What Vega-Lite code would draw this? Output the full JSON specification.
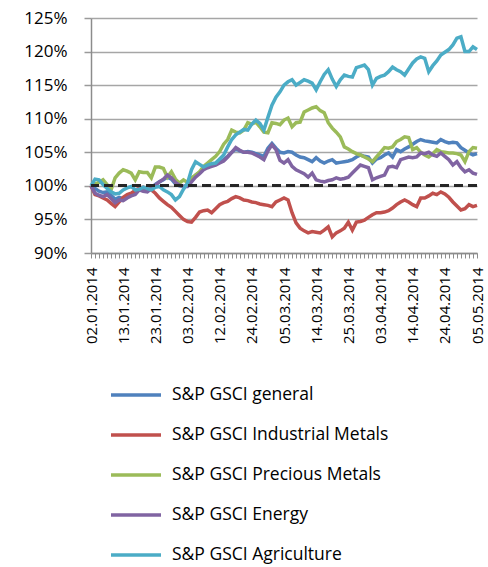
{
  "$schema": "https://vega.github.io/schema/vega-lite/v6.json",
  "width": 386,
  "height": 235,
  "padding": {"left": 23, "top": 9, "right": 2, "bottom": 0},
  "config": {"view": {"stroke": null}, "font": "Open Sans"},
  "data": {"values": [
    {"date": "02.01.2014", "general": 100.0, "industrial": 100.0, "precious": 100.0, "energy": 100.0, "agriculture": 100.0},
    {"date": "03.01.2014", "general": 99.6, "industrial": 98.7, "precious": 100.3, "energy": 98.9, "agriculture": 101.0},
    {"date": "06.01.2014", "general": 99.2, "industrial": 98.5, "precious": 100.5, "energy": 98.6, "agriculture": 100.9},
    {"date": "07.01.2014", "general": 99.0, "industrial": 98.2, "precious": 100.9, "energy": 98.4, "agriculture": 100.2},
    {"date": "08.01.2014", "general": 99.1, "industrial": 97.9, "precious": 100.2, "energy": 98.7, "agriculture": 99.6},
    {"date": "09.01.2014", "general": 98.6, "industrial": 97.4, "precious": 99.4, "energy": 98.1, "agriculture": 99.1},
    {"date": "10.01.2014", "general": 98.0, "industrial": 96.9, "precious": 101.2, "energy": 97.5, "agriculture": 98.8},
    {"date": "11.01.2014", "general": 98.3, "industrial": 97.6, "precious": 101.9, "energy": 97.9, "agriculture": 98.9},
    {"date": "13.01.2014", "general": 98.1, "industrial": 98.3, "precious": 102.4, "energy": 97.8, "agriculture": 99.4},
    {"date": "14.01.2014", "general": 98.4, "industrial": 98.7, "precious": 102.2, "energy": 98.2, "agriculture": 99.7},
    {"date": "15.01.2014", "general": 98.7, "industrial": 98.9, "precious": 101.9, "energy": 98.5, "agriculture": 99.9},
    {"date": "16.01.2014", "general": 98.9, "industrial": 99.3, "precious": 100.9, "energy": 98.7, "agriculture": 99.4},
    {"date": "17.01.2014", "general": 99.5, "industrial": 99.7, "precious": 102.1, "energy": 99.4, "agriculture": 99.5},
    {"date": "20.01.2014", "general": 99.3, "industrial": 99.8, "precious": 102.0, "energy": 99.2, "agriculture": 99.8},
    {"date": "21.01.2014", "general": 99.2, "industrial": 99.6, "precious": 102.0, "energy": 99.1, "agriculture": 99.6},
    {"date": "22.01.2014", "general": 99.7, "industrial": 99.4, "precious": 101.2, "energy": 99.6, "agriculture": 99.4},
    {"date": "23.01.2014", "general": 100.2, "industrial": 98.9, "precious": 102.8, "energy": 100.1, "agriculture": 99.8},
    {"date": "24.01.2014", "general": 100.6, "industrial": 98.2, "precious": 102.8, "energy": 100.6, "agriculture": 99.9},
    {"date": "27.01.2014", "general": 100.9, "industrial": 97.7, "precious": 102.6, "energy": 101.0, "agriculture": 99.4},
    {"date": "28.01.2014", "general": 101.3, "industrial": 97.2, "precious": 101.3, "energy": 101.6, "agriculture": 99.1},
    {"date": "29.01.2014", "general": 101.0, "industrial": 96.8, "precious": 102.1, "energy": 101.2, "agriculture": 98.7},
    {"date": "30.01.2014", "general": 100.3, "industrial": 96.2, "precious": 101.0, "energy": 100.5, "agriculture": 97.9},
    {"date": "31.01.2014", "general": 100.0, "industrial": 95.6, "precious": 100.4, "energy": 100.1, "agriculture": 98.4},
    {"date": "01.02.2014", "general": 99.9, "industrial": 95.0, "precious": 100.9, "energy": 99.9, "agriculture": 99.5},
    {"date": "03.02.2014", "general": 100.1, "industrial": 94.7, "precious": 100.5, "energy": 99.9, "agriculture": 100.4},
    {"date": "04.02.2014", "general": 100.9, "industrial": 94.6, "precious": 101.2, "energy": 100.6, "agriculture": 102.4},
    {"date": "05.02.2014", "general": 101.6, "industrial": 95.3, "precious": 101.6, "energy": 101.3, "agriculture": 103.6},
    {"date": "06.02.2014", "general": 102.0, "industrial": 96.1, "precious": 102.1, "energy": 101.8, "agriculture": 103.2},
    {"date": "07.02.2014", "general": 102.5, "industrial": 96.3, "precious": 102.9, "energy": 102.4, "agriculture": 102.8},
    {"date": "08.02.2014", "general": 102.8, "industrial": 96.4, "precious": 103.4, "energy": 102.7, "agriculture": 103.1},
    {"date": "10.02.2014", "general": 103.0, "industrial": 96.0, "precious": 103.9, "energy": 102.9, "agriculture": 103.3},
    {"date": "11.02.2014", "general": 103.2, "industrial": 96.6, "precious": 104.4, "energy": 103.1, "agriculture": 103.4},
    {"date": "12.02.2014", "general": 103.5, "industrial": 97.2, "precious": 105.1, "energy": 103.4, "agriculture": 104.0},
    {"date": "13.02.2014", "general": 103.9, "industrial": 97.5, "precious": 106.2, "energy": 103.7, "agriculture": 104.6},
    {"date": "14.02.2014", "general": 104.4, "industrial": 97.7, "precious": 106.9, "energy": 104.3, "agriculture": 105.8},
    {"date": "17.02.2014", "general": 105.0, "industrial": 98.1, "precious": 108.3, "energy": 105.0, "agriculture": 106.9},
    {"date": "18.02.2014", "general": 105.5, "industrial": 98.4, "precious": 108.0, "energy": 105.7, "agriculture": 107.6},
    {"date": "19.02.2014", "general": 105.2, "industrial": 98.2, "precious": 107.9, "energy": 105.3, "agriculture": 108.0},
    {"date": "20.02.2014", "general": 105.0, "industrial": 97.9, "precious": 108.3, "energy": 105.0, "agriculture": 108.4},
    {"date": "21.02.2014", "general": 105.1, "industrial": 97.8, "precious": 109.4, "energy": 105.0, "agriculture": 108.3},
    {"date": "24.02.2014", "general": 105.0, "industrial": 97.6, "precious": 109.2, "energy": 104.9, "agriculture": 109.2},
    {"date": "25.02.2014", "general": 104.8, "industrial": 97.5, "precious": 109.5, "energy": 104.6, "agriculture": 109.8},
    {"date": "26.02.2014", "general": 104.6, "industrial": 97.3, "precious": 108.8, "energy": 104.3, "agriculture": 109.3},
    {"date": "27.02.2014", "general": 104.4, "industrial": 97.2, "precious": 108.0, "energy": 103.9, "agriculture": 108.3},
    {"date": "28.02.2014", "general": 105.6, "industrial": 97.1, "precious": 107.9, "energy": 105.2, "agriculture": 110.2},
    {"date": "01.03.2014", "general": 106.3, "industrial": 96.9, "precious": 109.4, "energy": 106.1, "agriculture": 112.0},
    {"date": "03.03.2014", "general": 105.6, "industrial": 97.6, "precious": 109.3, "energy": 105.4, "agriculture": 113.2},
    {"date": "04.03.2014", "general": 105.0, "industrial": 97.9, "precious": 109.1, "energy": 103.8, "agriculture": 114.0},
    {"date": "05.03.2014", "general": 104.9, "industrial": 98.2, "precious": 109.8, "energy": 103.4, "agriculture": 115.0},
    {"date": "06.03.2014", "general": 105.1, "industrial": 97.9, "precious": 110.1, "energy": 103.9, "agriculture": 115.5},
    {"date": "07.03.2014", "general": 105.0, "industrial": 96.0, "precious": 108.8, "energy": 102.9, "agriculture": 115.8},
    {"date": "08.03.2014", "general": 104.6, "industrial": 94.5, "precious": 109.4, "energy": 102.4, "agriculture": 115.0},
    {"date": "10.03.2014", "general": 104.3, "industrial": 93.7, "precious": 109.5, "energy": 102.1, "agriculture": 115.4},
    {"date": "11.03.2014", "general": 104.2, "industrial": 93.3, "precious": 111.0, "energy": 101.8, "agriculture": 115.8},
    {"date": "12.03.2014", "general": 103.9, "industrial": 93.0, "precious": 111.3, "energy": 101.3, "agriculture": 115.6},
    {"date": "13.03.2014", "general": 103.6, "industrial": 93.2, "precious": 111.6, "energy": 101.9, "agriculture": 115.3},
    {"date": "14.03.2014", "general": 104.2, "industrial": 93.1, "precious": 111.8, "energy": 100.9, "agriculture": 114.3},
    {"date": "17.03.2014", "general": 103.7, "industrial": 93.0, "precious": 111.2, "energy": 100.7, "agriculture": 115.5},
    {"date": "18.03.2014", "general": 103.4, "industrial": 93.4, "precious": 110.9, "energy": 100.6, "agriculture": 116.6},
    {"date": "19.03.2014", "general": 103.7, "industrial": 93.9, "precious": 109.4, "energy": 100.8, "agriculture": 117.3},
    {"date": "20.03.2014", "general": 103.9, "industrial": 92.4, "precious": 108.6, "energy": 100.9, "agriculture": 115.9},
    {"date": "21.03.2014", "general": 103.4, "industrial": 93.0, "precious": 108.0, "energy": 101.2, "agriculture": 114.8},
    {"date": "22.03.2014", "general": 103.5, "industrial": 93.3, "precious": 107.3, "energy": 101.0, "agriculture": 115.8},
    {"date": "24.03.2014", "general": 103.6, "industrial": 93.7, "precious": 105.8, "energy": 101.1, "agriculture": 116.5},
    {"date": "25.03.2014", "general": 103.7, "industrial": 94.6, "precious": 105.5, "energy": 101.3, "agriculture": 116.3},
    {"date": "26.03.2014", "general": 103.9, "industrial": 93.4, "precious": 105.1, "energy": 101.9, "agriculture": 116.2},
    {"date": "27.03.2014", "general": 104.3, "industrial": 94.6, "precious": 104.8, "energy": 102.5, "agriculture": 117.6},
    {"date": "28.03.2014", "general": 104.6, "industrial": 94.7, "precious": 104.6, "energy": 103.1, "agriculture": 117.8},
    {"date": "29.03.2014", "general": 104.4, "industrial": 94.9, "precious": 104.3, "energy": 102.9, "agriculture": 118.0},
    {"date": "31.03.2014", "general": 104.3, "industrial": 95.3, "precious": 104.0, "energy": 102.7, "agriculture": 117.3},
    {"date": "01.04.2014", "general": 103.4, "industrial": 95.7, "precious": 103.6, "energy": 100.9, "agriculture": 115.0},
    {"date": "02.04.2014", "general": 104.0, "industrial": 96.0, "precious": 104.3, "energy": 101.2, "agriculture": 116.0},
    {"date": "03.04.2014", "general": 104.2, "industrial": 96.0, "precious": 105.0, "energy": 101.4, "agriculture": 116.3},
    {"date": "04.04.2014", "general": 104.6, "industrial": 96.1, "precious": 105.7, "energy": 101.6, "agriculture": 116.5},
    {"date": "05.04.2014", "general": 104.9, "industrial": 96.3, "precious": 105.6, "energy": 102.8, "agriculture": 117.0},
    {"date": "07.04.2014", "general": 104.3, "industrial": 96.7, "precious": 105.8, "energy": 102.9, "agriculture": 117.7},
    {"date": "08.04.2014", "general": 105.4, "industrial": 97.2, "precious": 106.6, "energy": 102.7, "agriculture": 117.3},
    {"date": "09.04.2014", "general": 105.1, "industrial": 97.6, "precious": 106.9, "energy": 103.9, "agriculture": 117.0},
    {"date": "10.04.2014", "general": 105.5, "industrial": 97.9, "precious": 107.3, "energy": 104.1, "agriculture": 116.5},
    {"date": "11.04.2014", "general": 105.8, "industrial": 97.6, "precious": 107.2, "energy": 104.3, "agriculture": 117.4},
    {"date": "14.04.2014", "general": 106.2, "industrial": 97.2, "precious": 105.4, "energy": 104.2, "agriculture": 118.3},
    {"date": "15.04.2014", "general": 106.6, "industrial": 96.9, "precious": 105.7, "energy": 104.3, "agriculture": 118.9},
    {"date": "16.04.2014", "general": 106.9, "industrial": 98.2, "precious": 105.0, "energy": 104.9, "agriculture": 119.2},
    {"date": "17.04.2014", "general": 106.7, "industrial": 98.2, "precious": 104.6, "energy": 104.8, "agriculture": 119.0},
    {"date": "18.04.2014", "general": 106.6, "industrial": 98.5, "precious": 104.3, "energy": 105.0, "agriculture": 117.0},
    {"date": "21.04.2014", "general": 106.5, "industrial": 98.9, "precious": 104.8, "energy": 104.6, "agriculture": 117.9},
    {"date": "22.04.2014", "general": 106.4, "industrial": 98.7, "precious": 105.4, "energy": 104.4, "agriculture": 118.6},
    {"date": "23.04.2014", "general": 106.9, "industrial": 99.1, "precious": 105.1, "energy": 104.9, "agriculture": 119.5},
    {"date": "24.04.2014", "general": 106.6, "industrial": 98.8, "precious": 105.0, "energy": 104.4, "agriculture": 119.9},
    {"date": "25.04.2014", "general": 106.4, "industrial": 98.3, "precious": 104.9, "energy": 103.9, "agriculture": 120.3},
    {"date": "28.04.2014", "general": 106.5, "industrial": 97.6, "precious": 104.9, "energy": 103.1, "agriculture": 121.0},
    {"date": "29.04.2014", "general": 106.4, "industrial": 97.0, "precious": 104.8, "energy": 103.6, "agriculture": 122.0},
    {"date": "30.04.2014", "general": 105.7, "industrial": 96.4, "precious": 104.6, "energy": 102.7, "agriculture": 122.2},
    {"date": "01.05.2014", "general": 105.3, "industrial": 96.6, "precious": 103.6, "energy": 102.1, "agriculture": 120.0},
    {"date": "02.05.2014", "general": 104.9, "industrial": 97.2, "precious": 105.1, "energy": 102.4, "agriculture": 120.0},
    {"date": "03.05.2014", "general": 104.6, "industrial": 96.9, "precious": 105.7, "energy": 101.9, "agriculture": 120.7},
    {"date": "05.05.2014", "general": 104.8, "industrial": 97.1, "precious": 105.6, "energy": 101.7, "agriculture": 120.3}
  ]},
  "transform": [
    {"fold": ["general", "industrial", "precious", "energy", "agriculture"], "as": ["series", "value"]}
  ],
  "layer": [
    {
      "mark": {"type": "line", "strokeWidth": 3.5},
      "encoding": {
        "x": {
          "field": "date", "type": "ordinal", "sort": null,
          "scale": {"type": "point", "padding": 0},
          "axis": {
            "title": null,
            "labelExpr": "indexof(['02.01.2014','13.01.2014','23.01.2014','03.02.2014','12.02.2014','24.02.2014','05.03.2014','14.03.2014','25.03.2014','03.04.2014','14.04.2014','24.04.2014','05.05.2014'], datum.value) >= 0 ? datum.value : ''",
            "labelAngle": -90,
            "labelOverlap": false,
            "labelFontSize": 15,
            "labelColor": "#000000",
            "labelPadding": 9,
            "tickSize": 5,
            "tickColor": "#8c8c8c",
            "tickWidth": 1,
            "domainColor": "#8c8c8c",
            "domainWidth": 1.5,
            "grid": false
          }
        },
        "y": {
          "field": "value", "type": "quantitative",
          "scale": {"domain": [90, 125], "nice": false, "zero": false},
          "axis": {
            "title": null,
            "values": [90, 95, 100, 105, 110, 115, 120, 125],
            "labelExpr": "datum.value + '%'",
            "labelOverlap": false,
            "labelFontSize": 17,
            "labelColor": "#000000",
            "labelPadding": 17,
            "tickSize": 7,
            "tickColor": "#9a9a9a",
            "tickWidth": 1.5,
            "domainColor": "#8c8c8c",
            "domainWidth": 1.5,
            "grid": true,
            "gridColor": "#a6a6a6",
            "gridWidth": 1.5
          }
        },
        "color": {
          "field": "series", "type": "nominal",
          "scale": {
            "domain": ["general", "industrial", "precious", "energy", "agriculture"],
            "range": ["#4F81BD", "#C0504D", "#9BBB59", "#8064A2", "#4BACC6"]
          },
          "legend": {
            "title": null,
            "orient": "none",
            "legendX": 18,
            "legendY": 350,
            "direction": "vertical",
            "symbolType": "stroke",
            "symbolSize": 2500,
            "symbolStrokeWidth": 3.5,
            "rowPadding": 4,
            "labelFontSize": 17.5,
            "labelLimit": 0,
            "labelColor": "#000000",
            "labelOffset": 9,
            "labelExpr": "datum.value == 'general' ? 'S&P GSCI general' : datum.value == 'industrial' ? 'S&P GSCI Industrial Metals' : datum.value == 'precious' ? 'S&P GSCI Precious Metals' : datum.value == 'energy' ? 'S&P GSCI Energy' : 'S&P GSCI Agriculture'"
          }
        }
      }
    },
    {
      "mark": {"type": "rule", "color": "#262626", "strokeWidth": 2.5, "strokeDash": [9, 5]},
      "encoding": {
        "y": {
          "datum": 100, "type": "quantitative",
          "scale": {"domain": [90, 125], "nice": false, "zero": false},
          "axis": {
            "title": null,
            "values": [90, 95, 100, 105, 110, 115, 120, 125],
            "labelExpr": "datum.value + '%'",
            "labelOverlap": false,
            "labelFontSize": 17,
            "labelColor": "#000000",
            "labelPadding": 17,
            "tickSize": 7,
            "tickColor": "#9a9a9a",
            "tickWidth": 1.5,
            "domainColor": "#8c8c8c",
            "domainWidth": 1.5,
            "grid": true,
            "gridColor": "#a6a6a6",
            "gridWidth": 1.5
          }
        }
      }
    }
  ]
}
